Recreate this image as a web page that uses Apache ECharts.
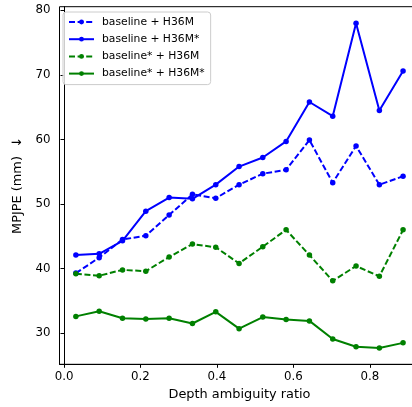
<!DOCTYPE html>
<html>
<head>
<meta charset="utf-8">
<script src="https://cdn.jsdelivr.net/npm/echarts@6/dist/echarts.min.js"></script>
<style>
  html, body { margin: 0; padding: 0; background: #fff; }
  #chart { width: 412px; height: 407px; }
</style>
</head>
<body>
<div id="chart"></div>
<script type="text/javascript">
    // depth ambiguity ratio (bin centres)
    var ratios = [0.031, 0.092, 0.153, 0.214, 0.275, 0.336, 0.397, 0.458, 0.520, 0.581, 0.642, 0.703, 0.764, 0.825, 0.887];

    // MPJPE (mm)
    var baseH36M      = [39.3, 41.7, 44.5, 45.1, 48.3, 51.5, 50.9, 53.0, 54.7, 55.3, 59.9, 53.3, 59.0, 53.0, 54.3];
    var baseH36MStar  = [42.1, 42.3, 44.3, 48.9, 51.0, 50.8, 53.0, 55.8, 57.2, 59.7, 65.8, 63.6, 78.0, 64.5, 70.6];
    var starH36M      = [39.2, 38.9, 39.8, 39.6, 41.8, 43.8, 43.3, 40.8, 43.4, 46.0, 42.1, 38.1, 40.4, 38.8, 46.0];
    var starH36MStar  = [32.6, 33.4, 32.3, 32.2, 32.3, 31.5, 33.3, 30.7, 32.5, 32.1, 31.9, 29.1, 27.9, 27.7, 28.5];

    var xTicks = [0.0, 0.2, 0.4, 0.6, 0.8];
    var yTicks = [30, 40, 50, 60, 70, 80];

    var FONT = 'DejaVu Sans';

    function pairs(ys) {
        return ys.map(function (y, i) { return [ratios[i], y]; });
    }

    function mkSeries(name, ys, color, dashed) {
        return {
            name: name,
            type: 'line',
            data: pairs(ys),
            symbol: 'circle',
            symbolSize: 5.5,
            showSymbol: true,
            color: color,
            itemStyle: { color: color },
            lineStyle: { color: color, width: 2, type: dashed ? [6, 2.6] : 'solid' },
            emphasis: { disabled: true },
            animation: false
        };
    }

    var chart = echarts.init(document.getElementById('chart'));
    chart.setOption({
        animation: false,
        grid: {
            left: 59.5, top: 6.7, width: 360, height: 357.6,
            outerBoundsMode: 'none', containLabel: false,
            show: true, borderColor: '#000', borderWidth: 1, backgroundColor: 'transparent'
        },
        legend: {
            orient: 'vertical',
            left: 63, top: 12,
            padding: [4, 6, 5, 5],
            itemWidth: 25, itemHeight: 6, itemGap: 5.2,
            backgroundColor: 'rgba(255,255,255,0.8)',
            borderColor: '#cccccc', borderWidth: 1, borderRadius: 3,
            textStyle: { fontFamily: FONT, fontSize: 10.75, color: '#000', lineHeight: 12, padding: [0, 0, 0, 3] },
            data: ['baseline + H36M', 'baseline + H36M*', 'baseline* + H36M', 'baseline* + H36M*']
        },
        xAxis: {
            type: 'value',
            min: -0.0118, max: 0.930,
            name: 'Depth ambiguity ratio',
            nameLocation: 'middle', nameGap: 24,
            nameTextStyle: { fontFamily: FONT, fontSize: 12.9, color: '#000' },
            axisLine: { show: true, lineStyle: { color: '#000', width: 1 } },
            axisTick: { show: true, length: 3.5, lineStyle: { color: '#000' }, customValues: xTicks },
            axisLabel: {
                fontFamily: FONT, fontSize: 11.8, color: '#000', margin: 7,
                customValues: xTicks,
                formatter: function (v) { return v.toFixed(1); }
            },
            splitLine: { show: false }
        },
        yAxis: {
            type: 'value',
            min: 25.18, max: 80.56,
            name: 'MPJPE (mm)  \u2193',
            nameLocation: 'middle', nameGap: 27, nameRotate: 90,
            nameTextStyle: { fontFamily: FONT, fontSize: 12.9, color: '#000' },
            axisLine: { show: true, lineStyle: { color: '#000', width: 1 } },
            axisTick: { show: true, length: 3.5, lineStyle: { color: '#000' }, customValues: yTicks },
            axisLabel: {
                fontFamily: FONT, fontSize: 11.8, color: '#000', margin: 9,
                customValues: yTicks
            },
            splitLine: { show: false }
        },
        series: [
            mkSeries('baseline + H36M', baseH36M, '#0000ff', true),
            mkSeries('baseline + H36M*', baseH36MStar, '#0000ff', false),
            mkSeries('baseline* + H36M', starH36M, '#008000', true),
            mkSeries('baseline* + H36M*', starH36MStar, '#008000', false)
        ]
    });
</script>
</body>
</html>
